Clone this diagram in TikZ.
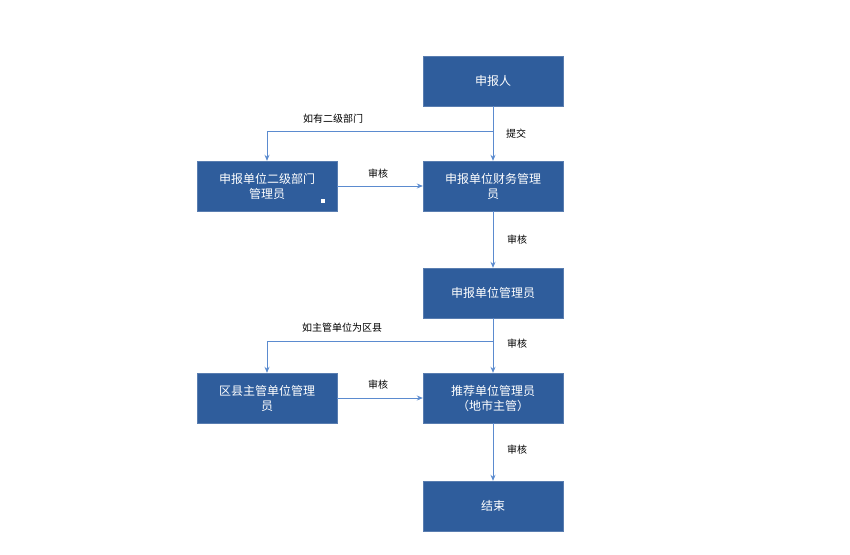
\documentclass[tikz,border=0pt]{standalone}
\usepackage{fontspec}
\setmainfont{Noto Sans CJK SC}
\usetikzlibrary{arrows.meta}
\definecolor{boxblue}{HTML}{2F5D9C}
\definecolor{lineblue}{HTML}{5B8BCF}
\tikzset{
  box/.style={draw=boxblue!80!white, fill=boxblue, text=white, minimum width=140pt, minimum height=50pt, align=center, font=\fontsize{12}{15}\selectfont, inner sep=2pt},
  conn/.style={draw=lineblue, line width=0.9pt, -{Stealth[length=6pt,width=5pt]}},
  plain/.style={draw=lineblue, line width=0.9pt},
  lab/.style={font=\fontsize{10}{12}\selectfont, text=black}
}
\begin{document}
\begin{tikzpicture}[x=1pt,y=-1pt]
\useasboundingbox[fill=white] (0,0) rectangle (850,554);
\node[box] (a) at (493,81) {申报人};
\node[box] (b) at (493,186) {申报单位财务管理\\员};
\node[box] (c) at (267,186) {申报单位二级部门\\管理员};
\node[box] (d) at (493,293) {申报单位管理员};
\node[box] (e) at (493,398) {推荐单位管理员\\（地市主管）};
\node[box] (f) at (267,398) {区县主管单位管理\\员};
\node[box] (g) at (493,506) {结束};
\node[fill=white, minimum size=4pt, inner sep=0pt] (sq) at (323,201) {};
\coordinate (j1) at (493,131);
\coordinate (k1) at (267,131);
\coordinate (j2) at (493,341);
\coordinate (k2) at (267,341);
\draw[conn] (a) -- (b);
\draw[conn] (j1) -- (k1) -- (c);
\draw[conn] (c) -- (b);
\draw[conn] (b) -- (d);
\draw[conn] (d) -- (e);
\draw[conn] (j2) -- (k2) -- (f);
\draw[conn] (f) -- (e);
\draw[conn] (e) -- (g);
\node[lab] (l1) at (333,119) {如有二级部门};
\node[lab] (l2) at (516,134) {提交};
\node[lab] (l3) at (378,174) {审核};
\node[lab] (l4) at (517,240) {审核};
\node[lab] (l5) at (342,328) {如主管单位为区县};
\node[lab] (l6) at (517,344) {审核};
\node[lab] (l7) at (378,385) {审核};
\node[lab] (l8) at (517,450) {审核};
\end{tikzpicture}
\end{document}
